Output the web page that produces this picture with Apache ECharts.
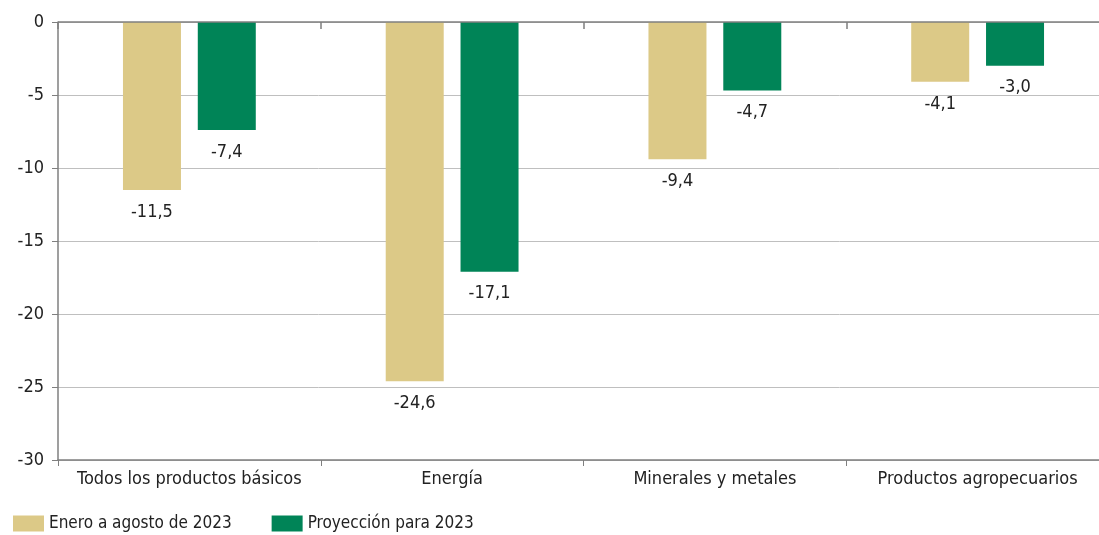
<!DOCTYPE html>
<html>
<head>
<meta charset="utf-8">
<script src="https://cdn.jsdelivr.net/npm/echarts@6/dist/echarts.min.js"></script>
<style>
  html, body { margin: 0; padding: 0; background: #fff; }
  #main { width: 1099px; height: 535px; }
</style>
</head>
<body>
<div id="main"></div>
<script>
const categories = ['Todos los productos básicos', 'Energía', 'Minerales y metales', 'Productos agropecuarios'];
const eneroAgosto = [-11.5, -24.6, -9.4, -4.1];
const proyeccion = [-7.4, -17.1, -4.7, -3.0];
const seriesNames = ['Enero a agosto de 2023', 'Proyección para 2023'];

const font = '"DejaVu Sans Condensed", "Liberation Sans Narrow", sans-serif';
const colors = ['#dcc987', '#008457'];

var chart = echarts.init(document.getElementById('main'));
const fmt = p => p.value.toFixed(1).replace('.', ',');

var option = {
    color: colors,
    textStyle: { fontFamily: font },
    // plot area runs a little past the right edge of the picture, as in the original
    grid: { left: 58, width: 1051, top: 22, bottom: 75, outerBoundsMode: 'none', containLabel: false },
    legend: {
        left: 8, top: 510,
        itemWidth: 31, itemHeight: 16, itemGap: 40,
        icon: 'rect',
        textStyle: { fontSize: 17, color: '#222', fontFamily: font },
        data: seriesNames
    },
    xAxis: [
        {
            type: 'category',
            data: categories,
            position: 'bottom',
            axisLine: { onZero: false, lineStyle: { color: '#7f7f7f', width: 1.5 } },
            axisTick: { show: true, length: 6, lineStyle: { color: '#7f7f7f' } },
            axisLabel: { fontSize: 18, color: '#222', margin: 10, interval: 0 }
        },
        {
            type: 'category',
            data: categories,
            position: 'top',
            axisLine: { show: false },
            axisTick: { show: true, inside: true, length: 7, lineStyle: { color: '#7f7f7f', width: 1.5 } },
            axisLabel: { show: false }
        }
    ],
    yAxis: {
        type: 'value',
        min: -30, max: 0, interval: 5,
        axisLine: { show: true, lineStyle: { color: '#7f7f7f', width: 1.5 } },
        axisTick: { show: true, length: 6, lineStyle: { color: '#7f7f7f' } },
        axisLabel: { fontSize: 18, color: '#222', margin: 14 },
        splitLine: { lineStyle: { color: '#bfbfbf', width: 1 } }
    },
    series: [
        {
            name: seriesNames[0], type: 'bar', data: eneroAgosto,
            barWidth: 58, barGap: '29%',
            label: { show: true, position: 'bottom', distance: 13, fontSize: 18, color: '#222', formatter: fmt }
        },
        {
            name: seriesNames[1], type: 'bar', data: proyeccion,
            barWidth: 58, barGap: '29%',
            label: { show: true, position: 'bottom', distance: 13, fontSize: 18, color: '#222', formatter: fmt },
            markLine: {
                silent: true, symbol: 'none', label: { show: false },
                lineStyle: { color: '#7f7f7f', width: 1.5, type: 'solid' },
                data: [{ yAxis: 0 }]
            }
        }
    ]
};
option && chart.setOption(option);
</script>
</body>
</html>
